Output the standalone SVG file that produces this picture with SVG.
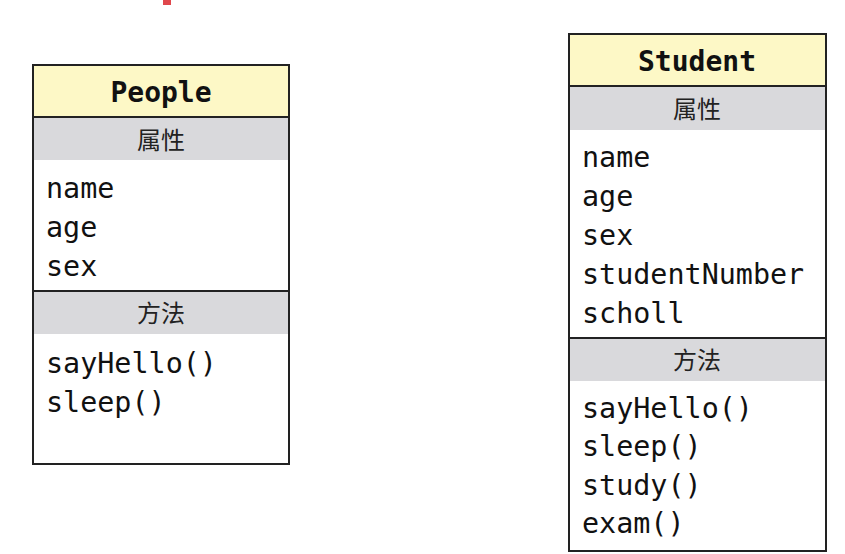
<svg xmlns="http://www.w3.org/2000/svg" width="845" height="554" viewBox="0 0 845 554">
<style>
.hdr{fill:#fdf8c6}
.band{fill:#d9d9dc}
.body{fill:#ffffff}
.line{stroke:#222;stroke-width:2;fill:none}
.title{font-family:"DejaVu Sans Mono","Liberation Mono",monospace;font-weight:bold;font-size:28px;fill:#111;text-anchor:middle}
.sec{font-family:"Noto Sans CJK SC","Noto Sans",sans-serif;font-size:24px;fill:#222;text-anchor:middle}
.item{font-family:"DejaVu Sans Mono","Liberation Mono",monospace;font-size:28.4px;fill:#111}
</style>
<rect x="0" y="0" width="845" height="554" fill="#ffffff"/>
<rect x="163" y="0" width="8" height="5" fill="#e0474c"/>
<g id="people">
  <rect class="body" x="33" y="65" width="256" height="399"/>
  <rect class="hdr" x="33" y="65" width="256" height="52"/>
  <rect class="band" x="33" y="117" width="256" height="43"/>
  <rect class="band" x="33" y="291" width="256" height="43"/>
  <rect class="line" x="33" y="65" width="256" height="399"/>
  <line class="line" x1="33" y1="117" x2="289" y2="117"/>
  <line class="line" x1="33" y1="291" x2="289" y2="291"/>
  <text class="title" x="161" y="102">People</text>
  <text class="sec" x="161" y="149">属性</text>
  <text class="item" x="46" y="198">name</text>
  <text class="item" x="46" y="237">age</text>
  <text class="item" x="46" y="276">sex</text>
  <text class="sec" x="161" y="322">方法</text>
  <text class="item" x="46" y="373">sayHello()</text>
  <text class="item" x="46" y="412">sleep()</text>
</g>
<g id="student">
  <rect class="body" x="569" y="34" width="257" height="517"/>
  <rect class="hdr" x="569" y="34" width="257" height="52"/>
  <rect class="band" x="569" y="86" width="257" height="44"/>
  <rect class="band" x="569" y="338" width="257" height="43"/>
  <rect class="line" x="569" y="34" width="257" height="517"/>
  <line class="line" x1="569" y1="86" x2="826" y2="86"/>
  <line class="line" x1="569" y1="338" x2="826" y2="338"/>
  <text class="title" x="697" y="71">Student</text>
  <text class="sec" x="697" y="118">属性</text>
  <text class="item" x="582" y="167">name</text>
  <text class="item" x="582" y="206">age</text>
  <text class="item" x="582" y="245">sex</text>
  <text class="item" x="582" y="284">studentNumber</text>
  <text class="item" x="582" y="323">scholl</text>
  <text class="sec" x="697" y="369">方法</text>
  <text class="item" x="582" y="418">sayHello()</text>
  <text class="item" x="582" y="456">sleep()</text>
  <text class="item" x="582" y="495">study()</text>
  <text class="item" x="582" y="533">exam()</text>
</g>
<g id="connectors"></g>
</svg>
